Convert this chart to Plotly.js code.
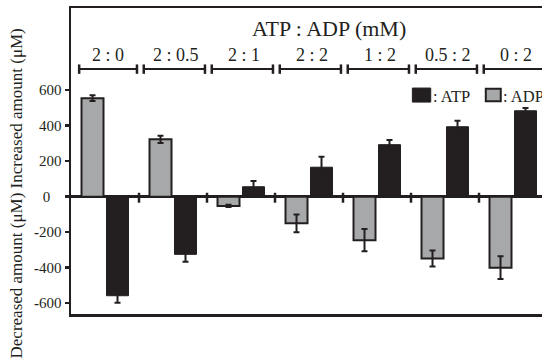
<!DOCTYPE html>
<html>
<head>
<meta charset="utf-8">
<script src="https://cdn.plot.ly/plotly-3.0.1.min.js"></script>
<style>
html, body { margin: 0; padding: 0; overflow: hidden; background: #fff; }
#chart { width: 600px; height: 359px; }
</style>
</head>
<body>
<div id="chart"></div>
<script>
// Data
const groups = ['2 : 0', '2 : 0.5', '2 : 1', '2 : 2', '1 : 2', '0.5 : 2', '0 : 2'];
const adpValues = [555, 323, -52, -150, -245, -348, -400];
const adpErrors = [16, 20, 6, 50, 63, 45, 64];
const atpValues = [-558, -325, 56, 166, 293, 394, 484];
const atpErrors = [40, 41, 32, 59, 26, 34, 16];
const yTickVals = [600, 400, 200, 0, -200, -400, -600];
const yTickText = ['600', '400', '200', '0\u00a0\u00a0\u00a0', '<b>-</b>200', '<b>-</b>400', '<b>-</b>600'];
const topTitle = 'ATP : ADP (mM)';
const yTitle = 'Decreased amount (\u03bcM) Increased amount (\u03bcM)';
const legendLabels = [': ATP', ': ADP'];

const ink = '#231f20';
const grey = '#a7a8aa';
const serif = 'Liberation Serif';
const xIdx = groups.map((g, i) => i);

const traces = [
  {
    type: 'bar', name: 'ADP', x: xIdx, y: adpValues,
    marker: { color: grey, line: { color: ink, width: 2 } },
    error_y: { type: 'data', array: adpErrors, visible: true, color: ink, thickness: 2, width: 3 },
    hoverinfo: 'none'
  },
  {
    type: 'bar', name: 'ATP', x: xIdx, y: atpValues,
    marker: { color: ink, line: { color: ink, width: 1 } },
    error_y: { type: 'data', array: atpErrors, visible: true, color: ink, thickness: 2, width: 3 },
    hoverinfo: 'none'
  }
];

const shapes = [];
const annotations = [];

// Group brackets and labels
groups.forEach((g, i) => {
  const x0 = i === 0 ? i - 0.38 : i - 0.43;
  const x1 = i + 0.47;
  shapes.push({ type: 'line', xref: 'x', yref: 'y', x0: x0, x1: x1, y0: 719, y1: 719, line: { color: ink, width: 2 } });
  shapes.push({ type: 'line', xref: 'x', yref: 'y', x0: x0, x1: x0, y0: 745, y1: 692, line: { color: ink, width: 2.5 } });
  shapes.push({ type: 'line', xref: 'x', yref: 'y', x0: x1, x1: x1, y0: 745, y1: 692, line: { color: ink, width: 2.5 } });
  annotations.push({ xref: 'x', yref: 'y', x: i + 0.04, y: 800, text: g, showarrow: false,
    xanchor: 'center', yanchor: 'middle', font: { family: serif, size: 18, color: ink } });
  if (i < groups.length - 1) {
    shapes.push({ type: 'line', xref: 'x', yref: 'y', x0: i + 0.5, x1: i + 0.5, y0: 22, y1: -34, line: { color: ink, width: 2.5 } });
  }
});

// Top title
annotations.push({ xref: 'x', yref: 'y', x: 3.29, y: 945, text: topTitle, showarrow: false,
  xanchor: 'center', yanchor: 'middle', font: { family: serif, size: 22, color: ink } });

// Y title
annotations.push({ xref: 'paper', yref: 'paper', x: -0.1155, y: 0.394, text: yTitle, showarrow: false,
  textangle: -90, xanchor: 'center', yanchor: 'middle', font: { family: serif, size: 17, color: ink } });

// Custom legend
shapes.push({ type: 'rect', xref: 'x', yref: 'y', x0: 4.52, x1: 4.79, y0: 533, y1: 612, fillcolor: ink, line: { color: ink, width: 1 } });
shapes.push({ type: 'rect', xref: 'x', yref: 'y', x0: 5.6, x1: 5.82, y0: 537, y1: 608, fillcolor: grey, line: { color: ink, width: 2 } });
annotations.push({ xref: 'x', yref: 'y', x: 4.8, y: 566, text: legendLabels[0], showarrow: false,
  xanchor: 'left', yanchor: 'middle', font: { family: serif, size: 16.5, color: ink } });
annotations.push({ xref: 'x', yref: 'y', x: 5.83, y: 566, text: legendLabels[1], showarrow: false,
  xanchor: 'left', yanchor: 'middle', font: { family: serif, size: 16.5, color: ink } });

const layout = {
  width: 600, height: 359,
  margin: { l: 71, r: 53, t: 8, b: 45, pad: 0 },
  paper_bgcolor: '#fff', plot_bgcolor: '#fff',
  showlegend: false,
  font: { family: serif, color: ink },
  barmode: 'group', bargap: 0.265, bargroupgap: 0.12,
  xaxis: {
    range: [-0.5, 6.5], showticklabels: false, ticks: '', showgrid: false, zeroline: false,
    showline: true, mirror: true, linecolor: ink, linewidth: 2.5, fixedrange: true
  },
  yaxis: {
    range: [-661, 1063], tickmode: 'array', tickvals: yTickVals, ticktext: yTickText,
    ticks: 'outside', ticklen: 4, tickwidth: 2.5, tickcolor: ink,
    showgrid: false, zeroline: true, zerolinecolor: ink, zerolinewidth: 2.5,
    showline: true, linecolor: ink, linewidth: 2.5,
    tickfont: { family: serif, size: 15, color: ink }, fixedrange: true
  },
  shapes: shapes,
  annotations: annotations
};

Plotly.newPlot('chart', traces, layout, { displayModeBar: false, staticPlot: true });
</script>
</body>
</html>
